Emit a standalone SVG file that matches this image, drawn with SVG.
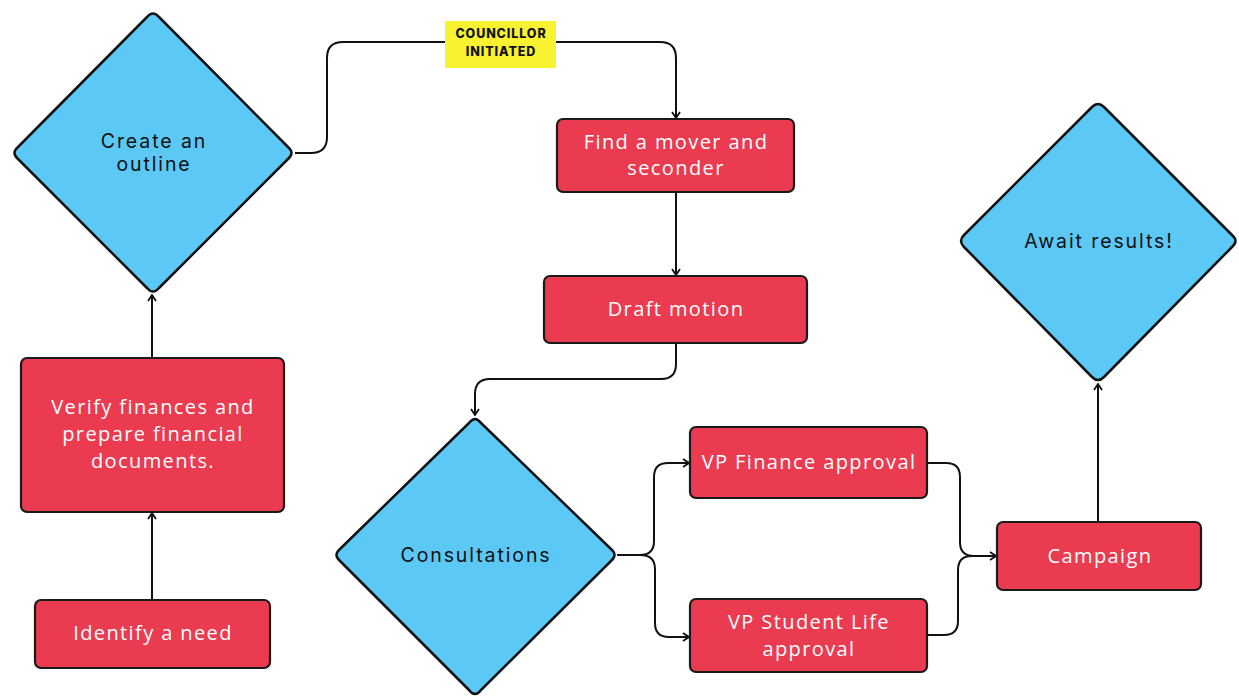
<svg xmlns="http://www.w3.org/2000/svg" width="1239" height="696" viewBox="0 0 1239 696">
<defs>
<style>
.dia{fill:#5BC8F5;stroke:#111;stroke-width:2.5;stroke-linejoin:round}
.box{fill:#EB3B50;stroke:#1a1a1a;stroke-width:2.2}
.dt{font-family:Inter,"Noto Sans",sans-serif;font-size:19.5px;fill:#111;text-anchor:middle;letter-spacing:1.9px}
.bt{font-family:"Open Sans","Noto Sans",sans-serif;font-size:20px;fill:#fff;text-anchor:middle;letter-spacing:1.4px}
.con{fill:none;stroke:#111;stroke-width:2}
.lbl{font-family:Inter,"Liberation Sans",Arial,sans-serif;font-weight:800;font-size:12.5px;fill:#111;text-anchor:middle;letter-spacing:0.9px}
</style>
<marker id="arr" viewBox="0 0 10 10" refX="9" refY="5" markerWidth="10" markerHeight="10" markerUnits="userSpaceOnUse" orient="auto">
<polyline points="3,1 9,5 3,9" fill="none" stroke="#111" stroke-width="1.8"/>
</marker>
</defs>
<rect width="1239" height="696" fill="#fff"/>
<g id="connectors">
<path class="con" d="M152,600 V513" marker-end="url(#arr)"/>
<path class="con" d="M152,358 V295" marker-end="url(#arr)"/>
<path class="con" d="M295,153 H311 Q327,153 327,137 V58 Q327,42 343,42 H660 Q676,42 676,58 V118" marker-end="url(#arr)"/>
<path class="con" d="M676,192 V275" marker-end="url(#arr)"/>
<path class="con" d="M676,343 V364 Q676,379 661,379 H490 Q475,379 475,394 V415" marker-end="url(#arr)"/>
<path class="con" d="M617,555 H640 Q654,555 654,541 V477 Q654,463 668,463 H689" marker-end="url(#arr)"/>
<path class="con" d="M617,555 H640 Q655,555 655,569 V623 Q655,637 669,637 H689" marker-end="url(#arr)"/>
<path class="con" d="M927,463 H946 Q960,463 960,477 V542 Q960,556 974,556 H996" marker-end="url(#arr)"/>
<path class="con" d="M927,635 H944 Q958,635 958,621 V570 Q958,556 972,556 H996"/>
<path class="con" d="M1098,522 V384" marker-end="url(#arr)"/>
<rect x="445" y="21" width="111" height="47" fill="#F9F233"/>
<text class="lbl" x="501" y="38">COUNCILLOR</text>
<text class="lbl" x="501" y="56">INITIATED</text>
</g>
<g id="create-outline">
<path class="dia" d="M147,17 Q153,10 159,17 L288,147 Q295,153 288,159 L159,288 Q153,295 147,288 L18,159 Q11,153 18,147 Z"/>
<text class="dt" x="154" y="148">Create an</text>
<text class="dt" x="154" y="171">outline</text>
</g>
<g id="find-mover">
<rect class="box" x="557" y="119" width="237" height="73" rx="6"/>
<text class="bt" x="676" y="149">Find a mover and</text>
<text class="bt" x="676" y="175">seconder</text>
</g>
<g id="draft-motion">
<rect class="box" x="544" y="276" width="263" height="67" rx="6"/>
<text class="bt" x="676" y="316">Draft motion</text>
</g>
<g id="verify-finances">
<rect class="box" x="21" y="358" width="263" height="154" rx="6"/>
<text class="bt" x="153" y="414">Verify finances and</text>
<text class="bt" x="153" y="441">prepare financial</text>
<text class="bt" x="153" y="468">documents.</text>
</g>
<g id="identify-need">
<rect class="box" x="35" y="600" width="235" height="68" rx="6"/>
<text class="bt" x="153" y="640">Identify a need</text>
</g>
<g id="consultations">
<path class="dia" d="M469,423 Q475,415 481,423 L611,549 Q618,555 611,561 L481,690 Q475,698 469,690 L340,561 Q333,555 340,549 Z"/>
<text class="dt" x="476" y="562">Consultations</text>
</g>
<g id="vp-finance">
<rect class="box" x="690" y="427" width="237" height="71" rx="6"/>
<text class="bt" x="809" y="469">VP Finance approval</text>
</g>
<g id="vp-student-life">
<rect class="box" x="690" y="599" width="237" height="73" rx="6"/>
<text class="bt" x="809" y="629">VP Student Life</text>
<text class="bt" x="809" y="656">approval</text>
</g>
<g id="campaign">
<rect class="box" x="997" y="522" width="204" height="68" rx="6"/>
<text class="bt" x="1100" y="563">Campaign</text>
</g>
<g id="await-results">
<path class="dia" d="M1092,107 Q1098,101 1104,107 L1232,235 Q1239,241 1232,247 L1104,377 Q1098,383 1092,377 L964,247 Q958,241 964,235 Z"/>
<text class="dt" x="1099" y="248">Await results!</text>
</g>
</svg>
